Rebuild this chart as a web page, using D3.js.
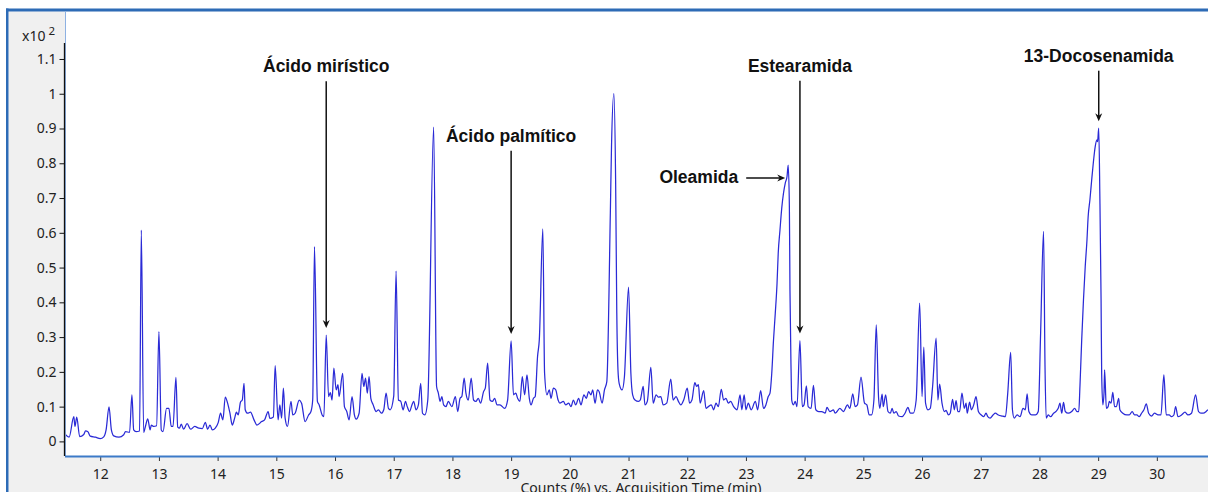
<!DOCTYPE html>
<html><head><meta charset="utf-8">
<script src="https://cdn.jsdelivr.net/npm/d3@7"></script>
<style>
html,body{margin:0;padding:0;background:#fff;}
svg{display:block;}
</style></head>
<body>
<svg id="chart" width="1208" height="492"></svg>
<script>
// ---- data (acquisition time in min, counts in % x10^2) ----
const chromatogram = [
[11.41,.019],[11.47,.012],[11.55,.071],[11.57,.043],[11.60,.070],[11.65,.014],[11.72,.020],[11.75,.030],[11.79,.028],[11.83,.015],
[11.92,.012],[12.00,.008],[12.06,.013],[12.10,.033],[12.15,.099],[12.19,.033],[12.23,.016],[12.32,.012],[12.40,.019],[12.43,.028],
[12.50,.026],[12.54,.134],[12.57,.033],[12.61,.028],[12.67,.030],[12.70,.608],[12.74,.026],[12.77,.043],[12.81,.065],[12.85,.033],
[12.87,.047],[12.91,.043],[12.96,.045],[13.00,.316],[13.04,.033],[13.07,.028],[13.13,.095],[13.17,.095],[13.21,.043],[13.24,.043],
[13.29,.184],[13.32,.041],[13.35,.038],[13.38,.050],[13.42,.035],[13.48,.051],[13.54,.035],[13.61,.043],[13.68,.038],[13.74,.037],
[13.79,.055],[13.83,.035],[13.87,.047],[13.91,.033],[13.96,.038],[14.01,.054],[14.05,.081],[14.09,.062],[14.13,.127],[14.17,.110],
[14.21,.081],[14.25,.047],[14.29,.067],[14.32,.084],[14.35,.076],[14.39,.113],[14.42,.119],[14.45,.167],[14.47,.091],[14.51,.081],
[14.56,.084],[14.62,.062],[14.67,.047],[14.75,.057],[14.80,.062],[14.86,.086],[14.89,.066],[14.95,.070],[14.98,.218],[15.03,.062],
[15.06,.105],[15.09,.067],[15.12,.153],[15.15,.067],[15.19,.043],[15.25,.115],[15.28,.076],[15.32,.081],[15.39,.119],[15.43,.110],
[15.49,.057],[15.55,.076],[15.59,.086],[15.62,.120],[15.65,.560],[15.70,.115],[15.73,.105],[15.78,.076],[15.81,.071],[15.85,.306],
[15.89,.129],[15.92,.140],[15.95,.119],[15.98,.211],[16.02,.148],[16.05,.163],[16.07,.129],[16.13,.196],[16.16,.100],[16.20,.086],
[16.24,.062],[16.29,.129],[16.33,.076],[16.36,.064],[16.41,.081],[16.46,.196],[16.49,.158],[16.52,.182],[16.55,.139],[16.58,.186],
[16.61,.124],[16.65,.105],[16.70,.086],[16.74,.091],[16.79,.081],[16.83,.091],[16.87,.139],[16.91,.095],[16.94,.091],[17.00,.130],
[17.04,.490],[17.08,.119],[17.12,.115],[17.16,.091],[17.20,.115],[17.23,.100],[17.27,.086],[17.31,.105],[17.34,.115],[17.38,.091],
[17.42,.105],[17.46,.167],[17.49,.081],[17.53,.076],[17.58,.119],[17.68,.904],[17.73,.158],[17.76,.139],[17.79,.115],[17.82,.129],
[17.85,.105],[17.89,.100],[17.93,.115],[17.99,.100],[18.05,.129],[18.09,.086],[18.13,.124],[18.16,.129],[18.20,.182],[18.23,.139],
[18.27,.119],[18.32,.182],[18.36,.119],[18.40,.115],[18.44,.124],[18.48,.110],[18.53,.143],[18.56,.153],[18.60,.225],[18.64,.119],
[18.68,.115],[18.72,.124],[18.76,.105],[18.81,.105],[18.89,.095],[18.94,.119],[19.00,.289],[19.04,.134],[19.08,.139],[19.11,.124],
[19.15,.115],[19.19,.186],[19.23,.134],[19.27,.191],[19.31,.124],[19.34,.105],[19.38,.124],[19.41,.129],[19.45,.244],[19.48,.292],
[19.54,.611],[19.57,.196],[19.61,.134],[19.65,.148],[19.68,.124],[19.72,.153],[19.76,.148],[19.80,.119],[19.83,.110],[19.89,.115],
[19.93,.105],[19.98,.110],[20.02,.100],[20.06,.119],[20.10,.105],[20.15,.124],[20.19,.105],[20.24,.134],[20.28,.124],[20.32,.143],
[20.36,.134],[20.39,.148],[20.43,.110],[20.47,.148],[20.50,.143],[20.55,.110],[20.59,.148],[20.63,.172],[20.69,.656],[20.71,.848],
[20.75,1.000],[20.78,.752],[20.80,.369],[20.82,.206],[20.84,.167],[20.89,.148],[20.93,.186],[21.00,.444],[21.04,.196],[21.07,.134],
[21.11,.119],[21.17,.115],[21.20,.119],[21.25,.158],[21.28,.105],[21.32,.115],[21.38,.213],[21.42,.110],[21.47,.134],[21.51,.127],
[21.55,.129],[21.59,.105],[21.65,.110],[21.72,.179],[21.76,.119],[21.81,.129],[21.85,.115],[21.89,.105],[21.94,.119],[22.00,.153],
[22.04,.110],[22.08,.119],[22.13,.169],[22.16,.158],[22.19,.163],[22.22,.110],[22.28,.146],[22.32,.095],[22.36,.100],[22.41,.105],
[22.45,.091],[22.49,.110],[22.53,.100],[22.58,.150],[22.62,.119],[22.66,.124],[22.70,.110],[22.74,.115],[22.79,.100],[22.85,.091],
[22.90,.134],[22.93,.091],[22.97,.134],[23.00,.091],[23.04,.110],[23.09,.091],[23.16,.115],[23.20,.091],[23.25,.146],[23.30,.095],
[23.34,.105],[23.38,.129],[23.41,.139],[23.44,.196],[23.47,.292],[23.50,.369],[23.53,.455],[23.55,.541],[23.58,.608],[23.61,.671],
[23.64,.714],[23.67,.743],[23.70,.762],[23.72,.795],[23.74,.675],[23.75,.436],[23.77,.196],[23.78,.119],[23.81,.105],[23.84,.115],
[23.87,.100],[23.92,.290],[23.96,.100],[23.99,.105],[24.03,.160],[24.06,.100],[24.11,.095],[24.15,.161],[24.19,.091],[24.24,.086],
[24.29,.086],[24.35,.081],[24.38,.098],[24.43,.086],[24.49,.091],[24.52,.081],[24.60,.095],[24.66,.086],[24.73,.105],[24.77,.095],
[24.82,.137],[24.86,.100],[24.90,.105],[24.96,.185],[25.02,.110],[25.06,.105],[25.10,.076],[25.14,.076],[25.18,.119],[25.22,.335],
[25.26,.124],[25.28,.095],[25.32,.136],[25.34,.100],[25.38,.134],[25.42,.086],[25.46,.081],[25.49,.095],[25.52,.081],[25.56,.086],
[25.60,.073],[25.66,.071],[25.71,.081],[25.76,.098],[25.80,.081],[25.85,.081],[25.90,.119],[25.96,.398],[26.00,.129],[26.03,.271],
[26.06,.110],[26.10,.091],[26.14,.095],[26.18,.158],[26.24,.297],[26.27,.119],[26.30,.165],[26.34,.110],[26.38,.086],[26.41,.089],
[26.45,.076],[26.48,.081],[26.52,.121],[26.55,.091],[26.58,.117],[26.61,.086],[26.64,.086],[26.68,.139],[26.72,.095],[26.75,.110],
[26.77,.081],[26.81,.113],[26.84,.091],[26.88,.105],[26.92,.129],[26.96,.086],[27.01,.076],[27.05,.071],[27.09,.081],[27.12,.071],
[27.16,.067],[27.21,.076],[27.25,.081],[27.30,.076],[27.36,.073],[27.42,.071],[27.46,.139],[27.51,.256],[27.54,.091],[27.57,.067],
[27.62,.076],[27.67,.071],[27.72,.095],[27.76,.091],[27.79,.137],[27.82,.086],[27.87,.076],[27.93,.076],[27.98,.086],[28.02,.311],
[28.07,.604],[28.095,.215],[28.115,.067],[28.15,.076],[28.19,.071],[28.24,.081],[28.28,.086],[28.32,.095],[28.35,.110],[28.38,.081],
[28.41,.112],[28.44,.086],[28.49,.081],[28.55,.086],[28.60,.095],[28.64,.086],[28.67,.086],[28.69,.158],[28.72,.292],[28.75,.407],
[28.78,.503],[28.81,.580],[28.83,.647],[28.86,.695],[28.89,.752],[28.92,.805],[28.95,.848],[28.98,.867],[28.99,.862],[29.01,.901],
[29.03,.695],[29.05,.407],[29.06,.196],[29.08,.105],[29.10,.139],[29.11,.206],[29.14,.095],[29.17,.100],[29.19,.115],[29.22,.110],
[29.25,.141],[29.28,.100],[29.31,.100],[29.35,.124],[29.37,.091],[29.42,.081],[29.49,.076],[29.53,.076],[29.58,.086],[29.62,.076],
[29.66,.076],[29.70,.071],[29.74,.081],[29.78,.091],[29.82,.108],[29.86,.081],[29.91,.073],[29.96,.081],[30.02,.076],[30.07,.076],
[30.12,.191],[30.16,.076],[30.21,.076],[30.25,.071],[30.29,.076],[30.32,.100],[30.36,.071],[30.42,.076],[30.48,.084],[30.53,.076],
[30.59,.081],[30.66,.134],[30.71,.086],[30.75,.081],[30.79,.081],[30.84,.086],[30.87,.091]
];
const yTicks = [0,0.1,0.2,0.3,0.4,0.5,0.6,0.7,0.8,0.9,1,1.1];
const xTicks = [12,13,14,15,16,17,18,19,20,21,22,23,24,25,26,27,28,29,30];
const xTitle = "Counts (%) vs. Acquisition Time (min)";
const yUnit = "x10";
const yUnitExp = "2";
const annLabels = ["Ácido mirístico","Ácido palmítico","Oleamida","Estearamida","13-Docosenamida"];
const annTimes  = [15.85, 19.00, 23.72, 23.92, 29.01];

// ---- layout ----
const svg = d3.select("#chart");
const P = {left:65, right:1208.5, top:11.5, bottom:456};
const x = d3.scaleLinear().domain([11.40, 30.88]).range([P.left, P.right]);
const y = d3.scaleLinear().domain([-0.042, 1.236]).range([456, 11.7]);
const frameBlue = "#2d6bb6";
const tickFont = "'Noto Sans', 'Open Sans', sans-serif";
const labFont = "'Liberation Sans', Arial, sans-serif";

// window frame
svg.append("rect").attr("x",8.5).attr("y",11.5).attr("width",1200).attr("height",481).attr("fill","#f0f0f0");
svg.append("rect").attr("x",P.left).attr("y",P.top).attr("width",P.right-P.left).attr("height",P.bottom-P.top).attr("fill","#fff");
svg.append("rect").attr("x",6).attr("y",8.5).attr("width",1202).attr("height",3).attr("fill",frameBlue);
svg.append("rect").attr("x",6).attr("y",8.5).attr("width",2.5).attr("height",484).attr("fill",frameBlue);
svg.append("line").attr("x1",65.5).attr("x2",65.5).attr("y1",P.top).attr("y2",P.bottom)
  .attr("stroke","#8db1e2").attr("stroke-width",1);

// trace
svg.append("clipPath").attr("id","clip").append("rect")
  .attr("x",P.left+1).attr("y",P.top).attr("width",P.right-P.left).attr("height",P.bottom-P.top);
const line = d3.line().x(d=>x(d[0])).y(d=>y(d[1])).curve(d3.curveMonotoneX);
svg.append("path").datum(chromatogram).attr("clip-path","url(#clip)")
  .attr("d",line).attr("fill","none").attr("stroke","#2a2ad6").attr("stroke-width",1.25)
  .attr("stroke-linejoin","round");

// x axis
const gx = svg.append("g").attr("transform",`translate(0,${P.bottom})`)
  .call(d3.axisBottom(x).tickValues(xTicks).tickSize(5).tickPadding(8).tickFormat(d=>String(d)));
gx.select(".domain").remove();
gx.selectAll(".tick line").attr("stroke","#333");
gx.selectAll(".tick text").attr("font-family",tickFont).attr("font-size",14).attr("fill","#222");
svg.append("line").attr("x1",P.left).attr("x2",P.right).attr("y1",P.bottom+0.5).attr("y2",P.bottom+0.5)
  .attr("stroke","#3c7ac8").attr("stroke-width",2);

// y axis
const gy = svg.append("g").attr("transform","translate(64.5,0)")
  .call(d3.axisLeft(y).tickValues(yTicks).tickSize(5).tickPadding(3).tickFormat(d=>String(+d.toFixed(1))));
gy.select(".domain").remove();
gy.selectAll(".tick line").attr("stroke","#111");
gy.selectAll(".tick text").attr("font-family",tickFont).attr("font-size",14).attr("fill","#222");
svg.append("line").attr("x1",64.5).attr("x2",64.5).attr("y1",y(1.1)-16).attr("y2",P.bottom)
  .attr("stroke","#111").attr("stroke-width",1.3);

// unit label
const ut = svg.append("text").attr("x",22).attr("y",40.5).attr("font-family",tickFont).attr("font-size",14).attr("fill","#222");
ut.append("tspan").text(yUnit);
ut.append("tspan").attr("dx",3).attr("dy",-6).attr("font-size",11.5).text(yUnitExp);

// x title
svg.append("text").attr("x",641).attr("y",492.5).attr("text-anchor","middle")
  .attr("font-family",tickFont).attr("font-size",14).attr("fill","#222").text(xTitle);

// annotations
function peakAt(t){ return chromatogram.reduce((a,b)=>Math.abs(b[0]-t)<Math.abs(a[0]-t)?b:a); }
const labelBase = [72.3, 141.7, null, 71.7, 61.7];
const ann = svg.append("g");
function arrowDown(px, y0, y1){
  ann.append("line").attr("x1",px).attr("x2",px).attr("y1",y0).attr("y2",y1-5).attr("stroke","#111").attr("stroke-width",1.5);
  ann.append("path").attr("d",`M${px-3.5},${y1-8}L${px},${y1-5.5}L${px+3.5},${y1-8}L${px},${y1}Z`).attr("fill","#111");
}
function arrowRight(x0, x1, py){
  ann.append("line").attr("x1",x0).attr("x2",x1-5).attr("y1",py).attr("y2",py).attr("stroke","#111").attr("stroke-width",1.5);
  ann.append("path").attr("d",`M${x1-8},${py-3.5}L${x1-5.5},${py}L${x1-8},${py+3.5}L${x1},${py}Z`).attr("fill","#111");
}
annLabels.forEach((lab,i)=>{
  const pk = peakAt(annTimes[i]);
  const px = x(pk[0]), py = y(pk[1]);
  const t = ann.append("text").attr("font-family",labFont).attr("font-weight","bold")
    .attr("font-size",17.5).attr("fill","#111").text(lab);
  if (labelBase[i] === null) {
    const ay = py + 13;
    arrowRight(px - 42, px - 3, ay);
    t.attr("x", px - 50).attr("y", ay + 5).attr("text-anchor","end");
  } else {
    arrowDown(px, labelBase[i] + 9, py - 7);
    t.attr("x", px).attr("y", labelBase[i]).attr("text-anchor","middle");
  }
});
</script>
</body></html>
